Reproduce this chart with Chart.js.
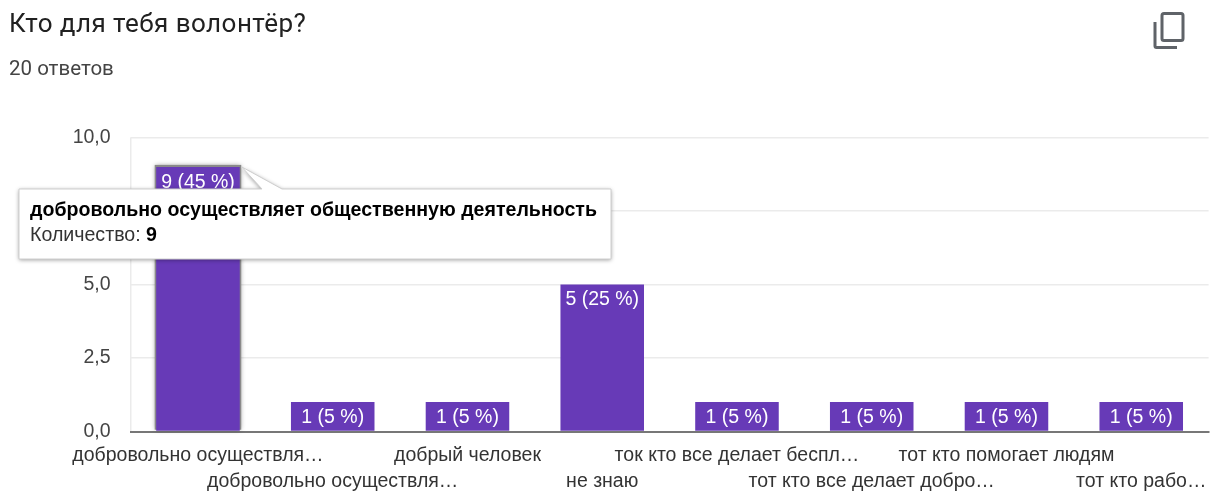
<!DOCTYPE html>
<html lang="ru">
<head>
<meta charset="utf-8">
<title>Кто для тебя волонтёр?</title>
<script src="https://cdn.jsdelivr.net/npm/chart.js@4/dist/chart.umd.min.js"></script>
<style>
  html, body { margin: 0; padding: 0; background: #fff; overflow: hidden; }
  #wrap { position: relative; width: 1218px; height: 493px; }
  canvas { position: absolute; left: 0; top: 0; }
  .title { position: absolute; left: 9px; top: 8px; font: 26px/30px Roboto, sans-serif; color: #212121; letter-spacing: .45px; }
  .sub { position: absolute; left: 9px; top: 56px; font: 20.500px/24px Roboto, sans-serif; color: #444; }
  .copy { position: absolute; left: 1150px; top: 9px; }
</style>
</head>
<body>
<div id="wrap">
  <canvas id="chart" width="1218" height="493"></canvas>
  <div class="title">Кто для тебя волонтёр?</div>
  <div class="sub">20 ответов</div>
  <svg class="copy" width="38" height="42" viewBox="0 0 38 42" fill="none" stroke="#5f6368" stroke-width="3">
    <rect x="12" y="4.5" width="21" height="27" rx="2"/>
    <path d="M5 13v24a1.500 1.500 0 0 0 1.500 1.500H27"/>
  </svg>
</div>
<script>
const labels = ['добровольно осуществля…', 'добровольно осуществля…', 'добрый человек', 'не знаю', 'ток кто все делает беспл…', 'тот кто все делает добро…', 'тот кто помогает людям', 'тот кто рабо…'];
const counts = [9, 1, 1, 5, 1, 1, 1, 1];
const percents = [45, 5, 5, 25, 5, 5, 5, 5];
const yTicks = [0, 2.5, 5, 7.5, 10];
const tooltipTitle = 'добровольно осуществляет общественную деятельность';
const tooltipLabel = 'Количество: ';
const activeBar = 0;

const barColor = '#673ab7';
const fontFamily = '"Liberation Sans", Arial, sans-serif';

// тень под выделенным столбцом
const activeShadow = {
  id: 'activeShadow',
  beforeDatasetsDraw(chart) {
    const bar = chart.getDatasetMeta(0).data[activeBar];
    const ctx = chart.ctx;
    ctx.save();
    ctx.shadowColor = 'rgba(0,0,0,0.4)';
    ctx.shadowBlur = 5;
    ctx.fillStyle = '#8a8a8a';
    ctx.fillRect(bar.x - bar.width / 2 - 1.5, bar.y - 2, bar.width + 3, bar.base - bar.y + 1);
    ctx.restore();
  }
};

// подписи внутри столбцов
const barLabels = {
  id: 'barLabels',
  afterDatasetsDraw(chart) {
    const ctx = chart.ctx;
    ctx.save();
    ctx.font = '19.500px ' + fontFamily;
    ctx.fillStyle = '#fff';
    ctx.textAlign = 'center';
    ctx.textBaseline = 'middle';
    chart.getDatasetMeta(0).data.forEach((bar, i) => {
      ctx.fillText(counts[i] + ' (' + percents[i] + ' %)', bar.x, bar.y + 15.5);
    });
    ctx.restore();
  }
};

// всплывающая подсказка над первым столбцом
const callout = {
  id: 'callout',
  afterDraw(chart) {
    const bar = chart.getDatasetMeta(0).data[activeBar];
    const ctx = chart.ctx;
    const tipX = bar.x + bar.width / 2 + 2, tipY = bar.y;
    const x = 19, y = 189, w = 592, h = 70;
    ctx.save();
    ctx.beginPath();
    ctx.moveTo(x, y);
    ctx.lineTo(262, y);
    ctx.lineTo(tipX, tipY);
    ctx.lineTo(282, y);
    ctx.lineTo(x + w, y);
    ctx.lineTo(x + w, y + h);
    ctx.lineTo(x, y + h);
    ctx.closePath();
    ctx.shadowColor = 'rgba(0,0,0,0.4)';
    ctx.shadowBlur = 4;
    ctx.shadowOffsetY = 1;
    ctx.fillStyle = '#fff';
    ctx.fill();
    ctx.shadowColor = 'transparent';
    ctx.strokeStyle = '#cfcfcf';
    ctx.lineWidth = 1;
    ctx.stroke();
    ctx.textBaseline = 'middle';
    ctx.textAlign = 'left';
    ctx.fillStyle = '#000';
    ctx.font = 'bold 19.600px ' + fontFamily;
    ctx.fillText(tooltipTitle, 30, 211);
    ctx.font = '19.600px ' + fontFamily;
    ctx.fillStyle = '#333';
    ctx.fillText(tooltipLabel, 30, 236);
    const lw = ctx.measureText(tooltipLabel).width;
    ctx.font = 'bold 19.600px ' + fontFamily;
    ctx.fillStyle = '#000';
    ctx.fillText(String(counts[activeBar]), 30 + lw, 236);
    ctx.restore();
  }
};

new Chart(document.getElementById('chart'), {
  type: 'bar',
  data: {
    labels: labels,
    datasets: [{
      data: counts,
      backgroundColor: barColor,
      barPercentage: 0.62,
      categoryPercentage: 1
    }]
  },
  options: {
    responsive: false,
    animation: false,
    layout: { padding: { left: 0, top: 137.5, right: 9, bottom: 0 } },
    plugins: { legend: { display: false }, tooltip: { enabled: false } },
    scales: {
      x: {
        afterFit: (s) => { s.height = 61.5; },
        border: { display: true, color: '#777', width: 2 },
        grid: {
          drawTicks: false,
          lineWidth: 1.5,
          // только боковые линии области графика
          color: (c) => (c.index === 0 || c.index === labels.length) ? '#ebebeb' : 'transparent'
        },
        ticks: {
          autoSkip: false,
          maxRotation: 0,
          minRotation: 0,
          padding: 11,
          color: '#333',
          font: { family: fontFamily, size: 19.5, lineHeight: 1.333 },
          // метки в два ряда
          callback(value, i) { return i % 2 ? ['', labels[i]] : [labels[i], '']; }
        }
      },
      y: {
        min: 0,
        max: 10,
        afterFit: (s) => { s.width = 130.6; },
        afterBuildTicks: (s) => { s.ticks = yTicks.map((v) => ({ value: v })); },
        border: { display: false },
        grid: { color: '#ebebeb', lineWidth: 1.5, tickLength: 0 },
        ticks: {
          padding: 20,
          color: '#444',
          font: { family: fontFamily, size: 19.5 },
          callback: (v) => v.toFixed(1).replace('.', ',')
        }
      }
    }
  },
  plugins: [activeShadow, barLabels, callout]
});
</script>
</body>
</html>
